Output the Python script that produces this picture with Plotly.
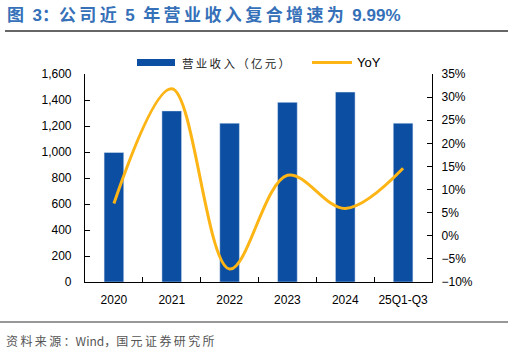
import plotly.graph_objects as go

categories = ["2020", "2021", "2022", "2023", "2024", "25Q1-Q3"]
revenue = [997, 1316, 1222, 1382, 1461, 1222]
yoy = [7.0, 31.8, -7.2, 13.1, 5.9, 14.6]

W, H = 513, 353
L, R, T, B = 85, 432, 74, 282
def px(x): return (x - L) / (R - L)
def py(y): return (B - y) / (B - T)

BLUE = "#0B4EA2"
GOLD = "#FDB515"
FONT = "Liberation Sans, Arial, Noto Sans CJK SC"
CJK = "Noto Sans CJK SC"
TS = "\u2009"
SP = "\u2002"

def spaced(s):
    return TS.join(list(s))

fig = go.Figure()
fig.add_trace(go.Bar(x=categories, y=revenue, marker_color=BLUE, width=0.34,
                     name="营业收入（亿元）", yaxis="y"))
fig.add_trace(go.Scatter(x=categories, y=yoy, mode="lines", name="YoY",
                         line=dict(color=GOLD, width=3, shape="spline", smoothing=1.0),
                         yaxis="y2"))

fig.update_layout(
    width=W, height=H,
    margin=dict(l=L, r=W - R, t=T, b=H - B),
    paper_bgcolor="white", plot_bgcolor="white",
    showlegend=False,
    font=dict(family=FONT, size=12, color="#000"),
    xaxis=dict(type="category", showline=True, linecolor="#000", linewidth=1.2,
               ticks="inside", tickson="boundaries", ticklen=5, tickcolor="#000",
               showgrid=False, tickfont=dict(size=12), ticklabelstandoff=6,
               tickangle=0, range=[-0.5, 5.5]),
    yaxis=dict(range=[0, 1600], dtick=200, tickformat=",", showline=True,
               linecolor="#000", linewidth=1.2, ticks="inside", ticklen=5,
               tickcolor="#000", showgrid=False, zeroline=False,
               tickfont=dict(size=12), ticklabelstandoff=10),
    yaxis2=dict(range=[-10, 35], dtick=5, ticksuffix="%", overlaying="y",
                side="right", showline=True, linecolor="#000", linewidth=1.2,
                ticks="inside", ticklen=5, tickcolor="#000", showgrid=False,
                zeroline=False, tickfont=dict(size=12), ticklabelstandoff=6),
)

shapes = [
    dict(type="line", xref="paper", yref="paper", x0=px(5), x1=px(508),
         y0=py(31), y1=py(31), line=dict(color="#333", width=1.5)),
    dict(type="line", xref="paper", yref="paper", x0=px(0), x1=px(508),
         y0=py(322), y1=py(322), line=dict(color="#333", width=1.2)),
    dict(type="rect", xref="paper", yref="paper", x0=px(137), x1=px(175),
         y0=py(66), y1=py(59), fillcolor=BLUE, line=dict(width=0)),
    dict(type="line", xref="paper", yref="paper", x0=px(312), x1=px(352),
         y0=py(62.5), y1=py(62.5), line=dict(color=GOLD, width=3)),
]
fig.update_layout(shapes=shapes)

title_txt = ("图" + SP + "3：" + spaced("公司近") + SP + "5" + SP +
             spaced("年营业收入复合增速为") + SP + "9.99%")
annotations = [
    dict(text="<b>" + title_txt + "</b>", xref="paper", yref="paper",
         x=px(5), y=py(15), xanchor="left", yanchor="middle", showarrow=False,
         font=dict(family=FONT, size=17, color="#3570B8")),
    dict(text=spaced("营业收入（亿元）"), xref="paper", yref="paper", x=px(180), y=py(62.5),
         xanchor="left", yanchor="middle", showarrow=False,
         font=dict(family=CJK, size=11.5, color="#222")),
    dict(text="YoY", xref="paper", yref="paper", x=px(355), y=py(62.5),
         xanchor="left", yanchor="middle", showarrow=False,
         font=dict(family=FONT, size=13, color="#000")),
    dict(text=spaced("资料来源：") + "Wind，" + spaced("国元证券研究所"), xref="paper", yref="paper",
         x=px(4), y=py(340), xanchor="left", yanchor="middle", showarrow=False,
         font=dict(family=CJK, size=12, color="#555")),
]
fig.update_layout(annotations=annotations)

fig.write_html("out.html")
